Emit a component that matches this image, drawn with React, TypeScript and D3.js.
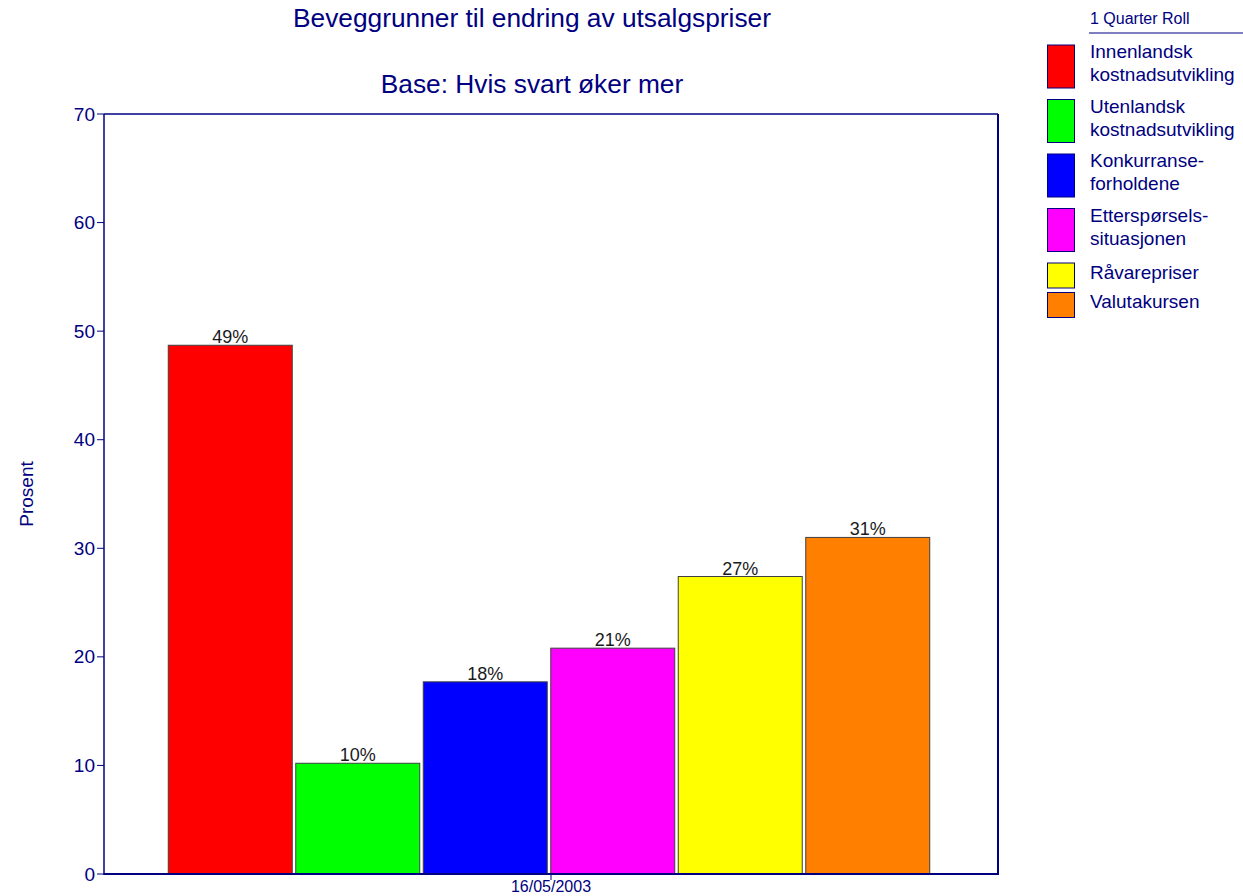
import React from "react";
import * as d3 from "d3";

// chart data
const categories = [
  "Innenlandsk kostnadsutvikling",
  "Utenlandsk kostnadsutvikling",
  "Konkurranseforholdene",
  "Etterspørselssituasjonen",
  "Råvarepriser",
  "Valutakursen",
];
const legendLines = [
  ["Innenlandsk", "kostnadsutvikling"],
  ["Utenlandsk", "kostnadsutvikling"],
  ["Konkurranse-", "forholdene"],
  ["Etterspørsels-", "situasjonen"],
  ["Råvarepriser"],
  ["Valutakursen"],
];
const values = [48.7, 10.2, 17.7, 20.8, 27.4, 31.0];
const colors = ["#FF0000", "#00FF00", "#0000FF", "#FF00FF", "#FFFF00", "#FF8000"];
const yTicks = [0, 10, 20, 30, 40, 50, 60, 70];
const dateLabel = "16/05/2003";

const W = 1243;
const H = 896;
const NAVY = "#000080";
const FONT = "'Liberation Sans', Arial, sans-serif";

const plot = { left: 104, right: 998, top: 114, bottom: 874 };

const App = () => {
  const y = d3.scaleLinear().domain([0, 70]).range([plot.bottom, plot.top]);
  const x = d3
    .scaleBand()
    .domain(categories)
    .range([plot.left, plot.right - 4])
    .paddingInner(0.0275)
    .paddingOuter(0.504);
  const midX = (plot.left + plot.right) / 2;

  // legend layout
  let cursor = 45;
  const legend = legendLines.map((lines, i) => {
    const top = cursor;
    const h = 18 * lines.length + 7;
    cursor += 25 * lines.length + 4.5;
    return { lines, top, h, color: colors[i] };
  });

  return (
    <svg
      width={W}
      height={H}
      style={{ position: "absolute", left: 0, top: 0, background: "#fff" }}
      fontFamily={FONT}
    >
      <text x={532} y={27} textAnchor="middle" fontSize={26.3} fill={NAVY}>
        Beveggrunner til endring av utsalgspriser
      </text>
      <text x={532} y={93} textAnchor="middle" fontSize={26.3} fill={NAVY}>
        Base: Hvis svart øker mer
      </text>

      {/* bars */}
      {categories.map((c, i) => (
        <g key={c}>
          <rect
            x={x(c)}
            y={y(values[i])}
            width={x.bandwidth()}
            height={y(0) - y(values[i])}
            fill={colors[i]}
            stroke="#404040"
            strokeWidth={1}
          />
          <text
            x={(x(c) as number) + x.bandwidth() / 2}
            y={y(values[i]) - 2}
            textAnchor="middle"
            fontSize={18}
            fill="#1a1a1a"
          >
            {Math.round(values[i])}%
          </text>
        </g>
      ))}

      {/* frame */}
      <line x1={plot.left} x2={plot.right} y1={plot.top} y2={plot.top} stroke={NAVY} strokeWidth={1.5} />
      <line x1={plot.right} x2={plot.right} y1={plot.top} y2={plot.bottom} stroke={NAVY} strokeWidth={2} />
      <line x1={plot.left} x2={plot.left} y1={plot.top} y2={plot.bottom + 1} stroke={NAVY} strokeWidth={1.5} />
      <line x1={plot.left} x2={plot.right + 1} y1={plot.bottom} y2={plot.bottom} stroke={NAVY} strokeWidth={2} />

      {/* y axis */}
      {yTicks.map((t) => (
        <g key={t}>
          <line x1={plot.left - 7} x2={plot.left} y1={y(t)} y2={y(t)} stroke={NAVY} strokeWidth={1} />
          <text x={plot.left - 9} y={y(t) + 6.5} textAnchor="end" fontSize={19} fill={NAVY}>
            {t}
          </text>
        </g>
      ))}
      <text
        transform={`translate(33, 494) rotate(-90)`}
        textAnchor="middle"
        fontSize={19}
        fill={NAVY}
      >
        Prosent
      </text>

      {/* x axis */}
      <line x1={midX} x2={midX} y1={plot.bottom} y2={plot.bottom + 6} stroke={NAVY} strokeWidth={1} />
      <text x={midX} y={892} textAnchor="middle" fontSize={16} fill={NAVY}>
        {dateLabel}
      </text>

      {/* legend */}
      <text x={1090} y={24} fontSize={16} fill={NAVY}>
        1 Quarter Roll
      </text>
      <line x1={1089} x2={W} y1={33} y2={33} stroke={NAVY} strokeWidth={1} />
      {legend.map((d) => {
        const center = d.top + d.h / 2;
        return (
          <g key={d.lines.join(" ")}>
            <rect x={1047.5} y={d.top} width={27} height={d.h} fill={d.color} stroke={NAVY} strokeWidth={1} />
            {d.lines.map((ln, j) => (
              <text
                key={ln}
                x={1090}
                y={center + (j - (d.lines.length - 1) / 2) * 23 + 3}
                fontSize={19}
                fill={NAVY}
              >
                {ln}
              </text>
            ))}
          </g>
        );
      })}
    </svg>
  );
};

export default App;
